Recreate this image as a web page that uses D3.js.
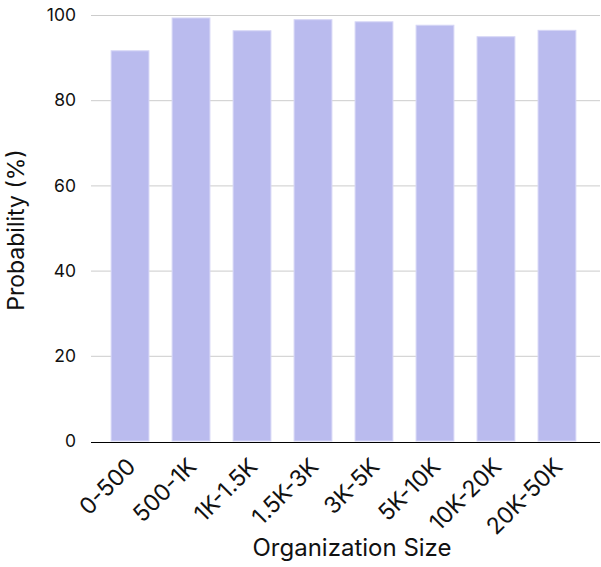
<!DOCTYPE html>
<html>
<head>
<meta charset="utf-8">
<script src="https://cdn.jsdelivr.net/npm/d3@7"></script>
<style>
  html, body { margin: 0; padding: 0; background: #fff; }
  svg { display: block; font-family: Inter, "Liberation Sans", Arial, sans-serif; font-weight: 400; }
</style>
</head>
<body>
<svg id="chart" width="601" height="567"></svg>
<script>
// Probability by organization size
const categories = ["0-500", "500-1K", "1K-1.5K", "1.5K-3K", "3K-5K", "5K-10K", "10K-20K", "20K-50K"];
const probability = [91.6, 99.3, 96.3, 98.9, 98.4, 97.6, 94.9, 96.4];
const yTicks = [0, 20, 40, 60, 80, 100];

const svg = d3.select("#chart");
const plotLeft = 91, gridRight = 600, bandRight = 596, plotTop = 15, plotBottom = 441;
const fontStack = "Inter, 'Liberation Sans', Arial, sans-serif";

const x = d3.scaleBand()
  .domain(categories)
  .range([plotLeft, bandRight])
  .paddingInner(0.38)
  .paddingOuter(0.33);

const y = d3.scaleLinear().domain([0, 100]).range([plotBottom, plotTop]);

// horizontal grid lines
svg.append("g")
  .selectAll("line")
  .data(yTicks.filter(d => d > 0))
  .join("line")
  .attr("x1", plotLeft).attr("x2", gridRight)
  .attr("y1", d => y(d) + 0.5).attr("y2", d => y(d) + 0.5)
  .attr("stroke", "#cccccc")
  .attr("stroke-width", 1);

// bars
svg.append("g")
  .selectAll("rect")
  .data(categories)
  .join("rect")
  .attr("x", d => x(d))
  .attr("width", x.bandwidth())
  .attr("y", (d, i) => y(probability[i]))
  .attr("height", (d, i) => y(0) - y(probability[i]))
  .attr("fill", "#babbee")
  .attr("stroke", "#d6d6f6")
  .attr("stroke-width", 1);

// y axis (labels only)
const yAxis = svg.append("g")
  .attr("transform", `translate(${plotLeft},0)`)
  .call(d3.axisLeft(y).tickValues(yTicks).tickSize(0).tickPadding(15));
yAxis.select(".domain").remove();
yAxis.selectAll("text")
  .attr("font-size", 17.5)
  .attr("font-family", fontStack)
  .attr("fill", "#111");

// baseline
svg.append("line")
  .attr("x1", plotLeft).attr("x2", gridRight)
  .attr("y1", plotBottom + 1.5).attr("y2", plotBottom + 1.5)
  .attr("stroke", "#000")
  .attr("stroke-width", 1);

// x axis labels, rotated
const xAxis = svg.append("g")
  .attr("transform", `translate(0,${plotBottom + 2})`)
  .call(d3.axisBottom(x).tickSize(0).tickPadding(0));
xAxis.select(".domain").remove();
xAxis.selectAll("text")
  .attr("font-size", 23)
  .attr("font-family", fontStack)
  .attr("fill", "#111")
  .attr("text-anchor", "end")
  .attr("dy", null)
  .attr("transform", "translate(7,25) rotate(-45)");

// axis titles
svg.append("text")
  .attr("x", 352).attr("y", 556)
  .attr("text-anchor", "middle")
  .attr("font-size", 24)
  .attr("fill", "#111")
  .text("Organization Size");

svg.append("text")
  .attr("transform", `translate(24,${(plotTop + plotBottom) / 2 + 2}) rotate(-90)`)
  .attr("text-anchor", "middle")
  .attr("font-size", 23)
  .attr("fill", "#111")
  .text("Probability (%)");
</script>
</body>
</html>
